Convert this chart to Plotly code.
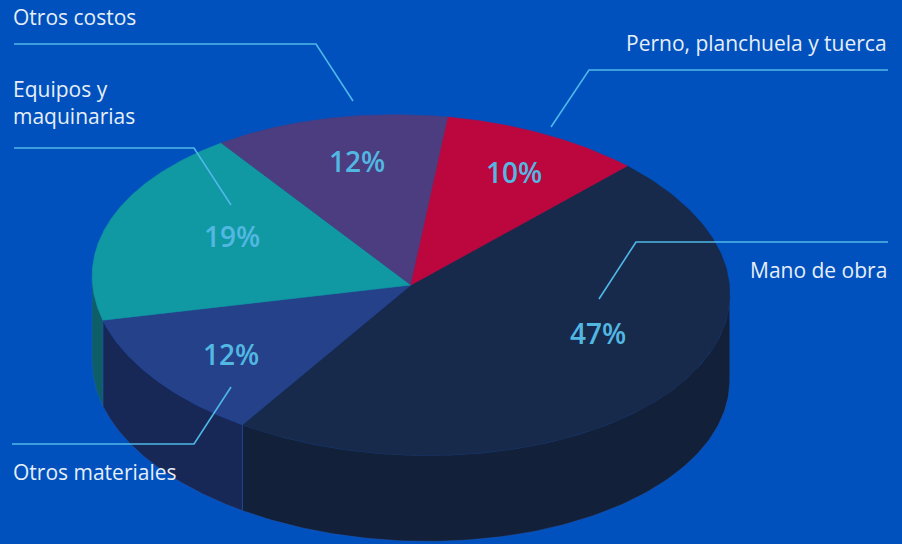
import numpy as np
import plotly.graph_objects as go

# ---------------- data ----------------
categories = ["Mano de obra", "Otros materiales", "Equipos y maquinarias",
              "Otros costos", "Perno, planchuela y tuerca"]
values = [47, 12, 19, 12, 10]

# ---------------- styles ----------------
top_colors = ["#172A4B", "#24418A", "#1098A3", "#4B3D80", "#BC063E"]
side_colors = ["#13203A", "#172857", "#0D5E66", "#3A2F66", "#8E0530"]
BG = "#0051BD"
NAME_COLOR = "#E6EEF8"
PCT_COLOR = "#52B8E2"
LEADER_COLOR = "#4FB8E8"
W, H = 902, 544

# pie geometry in pixel space
CX, CY = 411, 285
RX, RY = 319, 170
TILT = np.radians(2.24)
DEPTH = 86
START = np.radians(-48.5)

# label layout (pixel positions of texts and connectors)
LABEL_LAYOUT = {
    "Mano de obra": dict(xy=(889, 270), anchor="right",
                         leader=[(888, 242), (636, 242), (599, 299)], pct=(598, 333)),
    "Otros materiales": dict(xy=(11, 472), anchor="left",
                             leader=[(12, 444), (194, 444), (231, 387)], pct=(231, 354)),
    "Equipos y maquinarias": dict(xy=(11, 102), anchor="left", wrap="Equipos y<br>maquinarias",
                                  leader=[(14, 148), (194, 148), (231, 205)], pct=(232, 236)),
    "Otros costos": dict(xy=(11, 17), anchor="left",
                         leader=[(14, 44), (316, 44), (353, 101)], pct=(357, 161)),
    "Perno, planchuela y tuerca": dict(xy=(889, 43), anchor="right",
                                       leader=[(888, 70), (589, 70), (551, 127)], pct=(514, 172)),
}


def ellipse_pt(t, dy=0.0):
    x = RX * np.cos(t)
    y = RY * np.sin(t)
    return (CX + x * np.cos(TILT) - y * np.sin(TILT),
            CY + x * np.sin(TILT) + y * np.cos(TILT) + dy)


fig = go.Figure()

total = float(sum(values))
angles = [START]
for v in values:
    angles.append(angles[-1] + 2 * np.pi * v / total)

# visible (front) range of the cylinder wall
t_right = np.arctan(-(RY / RX) * np.tan(TILT))
t_left = t_right + np.pi

# side walls
for i, v in enumerate(values):
    a0, a1 = angles[i], angles[i + 1]
    for k in (-1, 0, 1):
        lo = max(a0 + 2 * np.pi * k, t_right)
        hi = min(a1 + 2 * np.pi * k, t_left)
        if hi - lo > 1e-4:
            ts = np.linspace(lo, hi, 120)
            xt, yt = ellipse_pt(ts)
            xb, yb = ellipse_pt(ts[::-1], DEPTH)
            xs = np.concatenate([xt, xb, xt[:1]])
            ys = np.concatenate([yt, yb, yt[:1]])
            fig.add_trace(go.Scatter(x=xs, y=ys, mode="lines", fill="toself",
                                     fillcolor=side_colors[i],
                                     line=dict(color="rgba(40,95,190,0.55)", width=0.7),
                                     hoverinfo="skip", showlegend=False))

# top faces
for i, v in enumerate(values):
    ts = np.linspace(angles[i], angles[i + 1], 200)
    xa, ya = ellipse_pt(ts)
    xs = np.concatenate([[CX], xa, [CX]])
    ys = np.concatenate([[CY], ya, [CY]])
    fig.add_trace(go.Scatter(x=xs, y=ys, mode="lines", fill="toself",
                             fillcolor=top_colors[i],
                             line=dict(color=top_colors[i], width=0.6),
                             hoverinfo="text", hoveron="fills",
                             text=f"{categories[i]}: {v}%",
                             showlegend=False))

# labels, connectors and percentages
for i, cat in enumerate(categories):
    lay = LABEL_LAYOUT[cat]
    lx = [p[0] for p in lay["leader"]]
    ly = [p[1] for p in lay["leader"]]
    fig.add_trace(go.Scatter(x=lx, y=ly, mode="lines",
                             line=dict(color=LEADER_COLOR, width=1.6),
                             hoverinfo="skip", showlegend=False))
    fig.add_annotation(x=lay["xy"][0], y=lay["xy"][1], xref="x", yref="y",
                       text=lay.get("wrap", cat), showarrow=False,
                       xanchor=lay["anchor"], yanchor="middle", align=lay["anchor"],
                       font=dict(family="Open Sans", size=21, color=NAME_COLOR))
    pct = values[i] / total * 100
    fig.add_annotation(x=lay["pct"][0], y=lay["pct"][1], xref="x", yref="y",
                       text=f"{pct:.0f}%", showarrow=False,
                       xanchor="center", yanchor="middle",
                       font=dict(family="Open Sans", size=28, color=PCT_COLOR, weight=600))

fig.update_layout(
    width=W, height=H, autosize=False,
    margin=dict(l=0, r=0, t=0, b=0),
    paper_bgcolor=BG, plot_bgcolor=BG,
    xaxis=dict(range=[0, W], visible=False, fixedrange=True),
    yaxis=dict(range=[H, 0], visible=False, fixedrange=True),
    showlegend=False,
)

fig.write_html("out.html", include_plotlyjs=True,
               config={"displayModeBar": False},
               post_script="document.body.style.margin='0';document.body.style.overflow='hidden';")
